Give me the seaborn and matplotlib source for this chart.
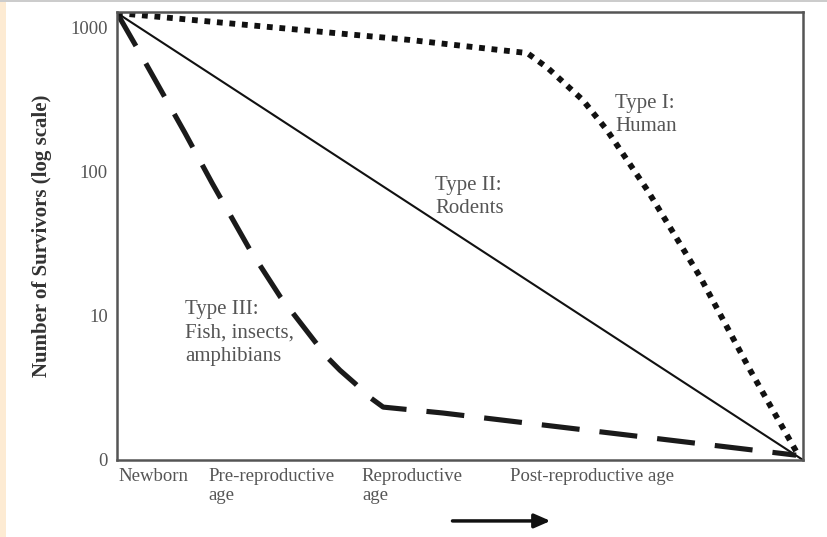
import pandas as pd
import matplotlib.pyplot as plt
import matplotlib.patches as mpatches
import seaborn as sns
import numpy as np

# age axis runs 0..100 (newborn -> end of life), survivors on a log scale
age_labels = ['Newborn', 'Pre-reproductive\nage', 'Reproductive\nage', 'Post-reproductive age']
age_ticks = [0.2, 13.3, 35.7, 57.3]
y_ticks = [1, 10, 100, 1000]
y_tick_labels = ['0', '10', '100', '1000']

type1_age = [0, 42.7, 55.8, 59.8, 62.8, 67.9, 71.4, 77.3, 85.0, 92.3, 99.0]
type1_surv = [1271, 826, 703, 670, 527, 316, 196, 75, 18.7, 4.2, 1.15]

type2_age = [0, 100]
type2_surv = [1271, 1]

type3_age = [0, 3.35, 9.9, 13.85, 19.4, 23.8, 28.9, 30.6, 32.5, 34.7, 36.6, 38.8, 47.5, 99.0]
type3_surv = [1271, 670, 187, 84, 28.7, 13.6, 6.6, 5.19, 4.2, 3.4, 2.78, 2.33, 2.12, 1.08]

sns.set_theme(style='white')
plt.rcParams['font.family'] = ['Liberation Serif', 'DejaVu Serif']

fig = plt.figure(figsize=(8.28, 5.37), dpi=100)
ax = fig.add_axes([117 / 828, 77 / 537, 686 / 828, 448 / 537])

df1 = pd.DataFrame({'age': type1_age, 'survivors': type1_surv})
df2 = pd.DataFrame({'age': type2_age, 'survivors': type2_surv})
df3 = pd.DataFrame({'age': type3_age, 'survivors': type3_surv})

sns.lineplot(data=df2, x='age', y='survivors', ax=ax, color='#111111', lw=1.5, sort=False)
sns.lineplot(data=df3, x='age', y='survivors', ax=ax, color='#1a1a1a', lw=3.7, sort=False)
sns.lineplot(data=df1, x='age', y='survivors', ax=ax, color='#111111', lw=4.2, sort=False)
lines = ax.get_lines()
lines[1].set_dashes((7.4, 3.9))
lines[1].set_dash_capstyle('butt')
lines[1].set_solid_joinstyle('round')
lines[2].set_dashes((1.0, 1.15))
lines[2].set_dash_capstyle('butt')

ax.set_yscale('log')
ax.set_xlim(0, 100)
ax.set_ylim(1, 10 ** (448 / 144))
ax.set_yticks(y_ticks)
ax.set_yticklabels(y_tick_labels)
ax.minorticks_off()
ax.set_xticks(age_ticks)
ax.set_xticklabels(age_labels, ha='left', va='top', linespacing=1.1)
ax.tick_params(axis='both', length=0, labelsize=13.5, labelcolor='#555555')
ax.tick_params(axis='y', pad=6.5)
ax.tick_params(axis='x', pad=6)

ax.set_xlabel('')
ax.set_ylabel('Number of Survivors (log scale)', fontsize=15, fontweight='bold',
              color='#333333', labelpad=13)

for sp in ax.spines.values():
    sp.set_visible(True)
    sp.set_color('#555555')
    sp.set_linewidth(1.8)

txt = dict(fontsize=15, color='#555555', ha='left', va='center', linespacing=1.3)
ax.text(72.6, 249, 'Type I:\nHuman', **txt)
ax.text(46.4, 67, 'Type II:\nRodents', **txt)
ax.text(9.9, 7.6, 'Type III:\nFish, insects,\namphibians', **txt)

ax.annotate('', xy=(0.636, -0.136), xytext=(0.485, -0.136), xycoords='axes fraction',
            annotation_clip=False,
            arrowprops=dict(arrowstyle='-|>,head_length=0.8,head_width=0.35', lw=2.5, color='#111111'))

# page decorations from the screenshot
fig.patches.append(mpatches.Rectangle((0, 0), 6 / 828, 1, transform=fig.transFigure,
                                      facecolor='#fdebd3', edgecolor='none'))
fig.patches.append(mpatches.Rectangle((0, 1 - 2 / 537), 1, 2 / 537, transform=fig.transFigure,
                                      facecolor='#cccccc', edgecolor='none'))

plt.savefig('out.png', dpi=100)
